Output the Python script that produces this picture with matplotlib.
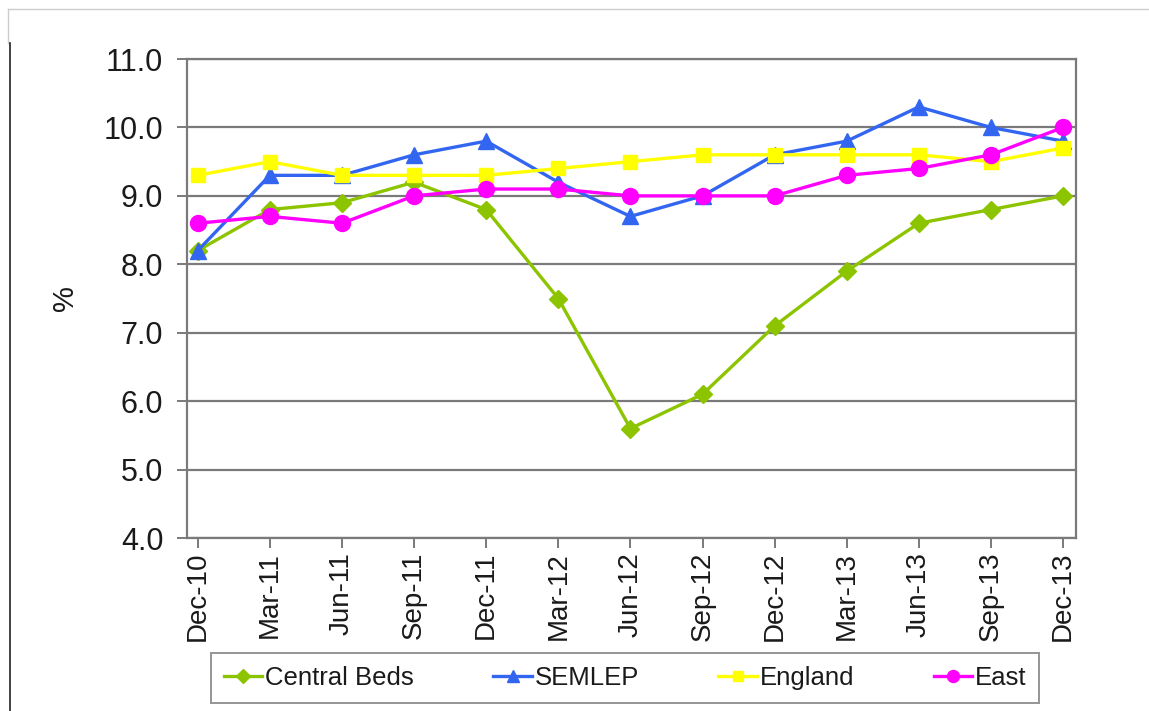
import matplotlib.pyplot as plt
from matplotlib.lines import Line2D

plt.rcParams['font.family'] = ['Liberation Sans', 'DejaVu Sans']

# Quarterly rates, Dec-10 to Dec-13
quarters = ["Dec-10", "Mar-11", "Jun-11", "Sep-11", "Dec-11", "Mar-12", "Jun-12",
            "Sep-12", "Dec-12", "Mar-13", "Jun-13", "Sep-13", "Dec-13"]
central_beds = [8.2, 8.8, 8.9, 9.2, 8.8, 7.5, 5.6, 6.1, 7.1, 7.9, 8.6, 8.8, 9.0]
semlep = [8.2, 9.3, 9.3, 9.6, 9.8, 9.2, 8.7, 9.0, 9.6, 9.8, 10.3, 10.0, 9.8]
england = [9.3, 9.5, 9.3, 9.3, 9.3, 9.4, 9.5, 9.6, 9.6, 9.6, 9.6, 9.5, 9.7]
east = [8.6, 8.7, 8.6, 9.0, 9.1, 9.1, 9.0, 9.0, 9.0, 9.3, 9.4, 9.6, 10.0]

series = [
    ("Central Beds", central_beds, "#8DC400", "D", 9.5),
    ("SEMLEP", semlep, "#3366F0", "^", 11.5),
    ("England", england, "#FFFF00", "s", 10.5),
    ("East", east, "#FF00FF", "o", 11.5),
]

fig = plt.figure(figsize=(11.49, 7.11), dpi=100)
ax = fig.add_axes([0.1627, 0.2433, 0.7738, 0.6737])

x = list(range(len(quarters)))
for name, vals, col, mk, ms in series:
    ax.plot(x, vals, color=col, lw=2.4, marker=mk, markersize=ms,
            markerfacecolor=col, markeredgecolor=col, label=name, zorder=3)

ax.set_ylim(4, 11)
ax.set_yticks([4, 5, 6, 7, 8, 9, 10, 11])
ax.set_yticklabels([f"{v:.1f}" for v in range(4, 12)])
ax.set_xlim(-0.15, 12.18)
ax.set_xticks(x)
ax.set_xticklabels(quarters, rotation=90)
ax.yaxis.grid(True, color="#7a7a7a", lw=1.6)
ax.set_axisbelow(True)
for s in ax.spines.values():
    s.set_color("#7a7a7a")
    s.set_linewidth(1.6)
ax.tick_params(axis="both", colors="#7a7a7a", labelcolor="#1a1a1a",
               length=7, width=1.4, direction="out")
ax.tick_params(axis="y", pad=10, labelsize=22)
ax.tick_params(axis="x", pad=3, labelsize=20)
ax.set_ylabel("%", fontsize=21, color="#1a1a1a", labelpad=18)

leg = fig.legend(loc="center", bbox_to_anchor=(0.544, 0.046), ncol=4,
                 fontsize=18.5, frameon=True, fancybox=False, handlelength=1.5,
                 handletextpad=0.1, columnspacing=3.1, markerscale=0.75,
                 borderpad=0.5)
leg.get_frame().set_edgecolor("#7a7a7a")
leg.get_frame().set_linewidth(1.4)
for t in leg.get_texts():
    t.set_color("#1a1a1a")

# outer frame lines
fig.add_artist(Line2D([0.007, 1.0], [0.988, 0.988], color="#cccccc", lw=1))
fig.add_artist(Line2D([0.007, 0.007], [0.94, 0.988], color="#cccccc", lw=1))
fig.add_artist(Line2D([0.0087, 0.0087], [0.0, 0.94], color="#222222", lw=1.2))

fig.savefig("out.png", dpi=100)
